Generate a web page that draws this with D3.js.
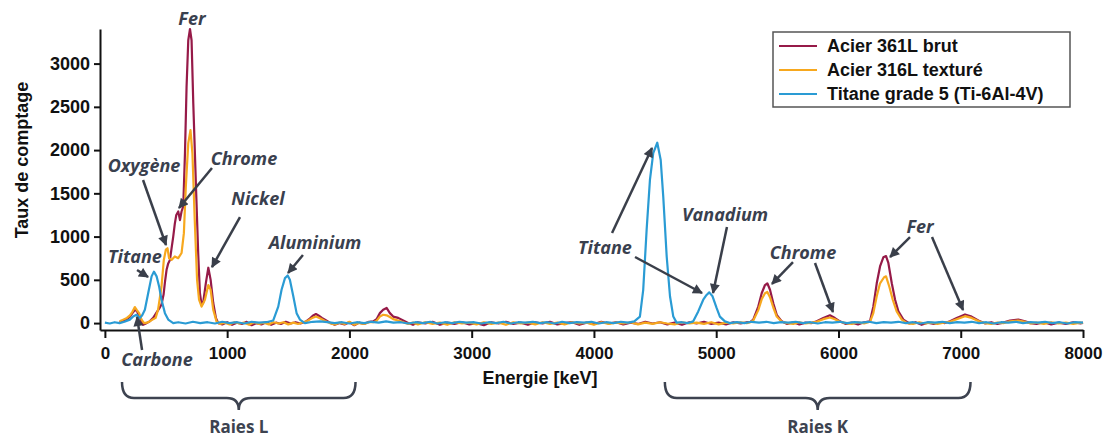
<!DOCTYPE html>
<html lang="fr">
<head>
<meta charset="UTF-8">
<title>Spectre EDS</title>
<style>
  body { margin: 0; background: #fff; }
  svg { display: block; font-family: "Liberation Sans", Arial, sans-serif; }
  .axis path, .axis line { stroke: #111; stroke-width: 2px; }
  .axis text { font-size: 17px; font-weight: bold; fill: #111; font-family: "Liberation Sans", Arial, sans-serif; }
  .axis.y text { font-size: 18px; }
  .spectre { fill: none; stroke-width: 2.2px; stroke-linejoin: round; }
  .titre-axe { font-size: 18px; font-weight: bold; fill: #111; }
  .note { font-family: "Open Sans", sans-serif; font-style: italic; font-weight: 700; font-size: 18px; fill: #39404e; }
  .fleche { stroke: #3a3f4a; stroke-width: 2.5px; fill: none; }
  .accolade { stroke: #3d4350; stroke-width: 2.5px; fill: none; }
  .raies { font-family: "Open Sans", sans-serif; font-weight: 700; font-size: 17px; fill: #3d4350; }
  .legende text { font-size: 18px; font-weight: bold; fill: #111; }
</style>
</head>
<body>
<div id="chart"></div>
<script src="https://cdn.jsdelivr.net/npm/d3@7"></script>
<script>
// spectres [energie, comptage]
const brut = [[120,10],[150,25],[180,45],[205,75],[225,115],[245,150],[262,140],[280,80],[298,15],[313,-20],[335,-5],[367,20],[395,60],[422,120],[445,170],[463,215],[480,330],[491,470],[505,620],[518,690],[532,730],[545,860],[559,1000],[572,1150],[584,1250],[600,1290],[614,1190],[627,1290],[641,1350],[655,1965],[668,2730],[682,3270],[696,3400],[709,3270],[723,2540],[745,1580],[763,810],[777,350],[791,210],[804,235],[826,465],[846,640],[865,500],[886,235],[908,60],[927,0],
  [960,-15],[1000,10],[1040,-20],[1080,5],[1120,-10],[1160,15],[1200,-25],[1240,0],[1280,-15],[1320,10],[1360,-20],[1400,5],[1440,-10],[1480,15],[1520,-5],[1560,10],[1600,-5],[1640,15],[1670,45],[1700,85],[1726,105],[1750,85],[1775,60],[1800,40],[1840,5],[1880,-20],[1920,0],[1960,-15],[2000,10],[2040,-25],[2080,5],[2120,-10],[2160,15],[2195,20],[2222,45],[2249,115],[2276,155],[2304,175],[2331,115],[2358,75],[2399,60],[2440,30],[2480,0],[2520,-20],[2560,10],[2620,-5],[2680,15],[2740,-20],[2800,5],[2860,-10],[2920,10],[2980,-15],[3040,0],[3100,-25],[3160,10],[3220,-5],[3280,15],[3340,-10],[3400,5],[3460,-20],[3520,10],[3580,-5],[3640,15],[3700,-15],[3760,0],[3820,10],[3880,-20],[3940,5],[4000,-10],[4060,15],[4120,-5],[4180,10],[4240,-15],[4300,5],[4360,-10],[4420,15],[4480,-5],[4540,10],[4600,-15],[4660,5],[4720,-20],[4780,10],[4840,-5],[4900,15],[4960,-10],[5020,5],[5080,-15],[5140,10],[5200,-5],[5250,10],[5280,15],
  [5303,40],[5344,190],[5372,345],[5399,440],[5418,460],[5440,385],[5467,230],[5495,95],[5536,20],[5580,-10],[5630,10],[5680,-15],[5730,5],[5780,0],[5822,20],[5876,58],[5930,90],[5971,58],[6012,20],[6060,-10],[6110,5],[6160,-15],[6210,10],[6258,20],[6285,190],[6313,460],[6340,655],[6367,760],[6389,775],[6408,695],[6436,460],[6463,270],[6490,135],[6531,40],[6580,-5],[6630,10],[6680,-20],[6730,5],[6780,-10],[6830,10],[6870,0],[6912,20],[6967,58],[7035,100],[7089,75],[7158,20],[7200,-5],[7250,10],[7300,-10],[7348,5],[7403,30],[7471,40],[7526,20],[7570,0],[7620,-10],[7680,10],[7740,-15],[7800,5],[7860,-10],[7920,10],[7980,-5],[8000,5]];

const texture = [[120,20],[150,40],[180,60],[205,90],[225,130],[245,185],[262,150],[280,115],[300,40],[320,0],[345,5],[367,20],[395,45],[415,60],[435,155],[463,420],[482,730],[499,850],[512,865],[525,750],[545,730],[572,770],[600,750],[627,810],[646,1040],[662,1580],[682,2080],[700,2230],[716,1960],[735,1190],[754,500],[770,270],[791,190],[818,270],[846,440],[865,385],[886,155],[913,20],
  [940,-10],[980,5],[1020,-15],[1060,10],[1100,-5],[1140,5],[1180,-20],[1220,10],[1260,-10],[1300,5],[1340,-15],[1380,10],[1420,-5],[1460,10],[1500,-15],[1540,5],[1580,-10],[1620,10],[1650,20],[1691,55],[1726,75],[1759,55],[1800,25],[1840,0],[1880,-15],[1920,5],[1960,-10],[2000,15],[2040,-20],[2080,0],[2120,-10],[2160,10],[2195,10],[2222,25],[2249,75],[2276,96],[2304,90],[2331,70],[2358,45],[2399,30],[2440,10],[2480,-10],[2520,5],[2560,-15],[2620,10],[2680,-10],[2740,5],[2800,-20],[2860,10],[2920,-5],[2980,5],[3040,-15],[3100,10],[3160,-10],[3220,5],[3280,-20],[3340,10],[3400,-5],[3460,5],[3520,-15],[3580,10],[3640,-10],[3700,5],[3760,-15],[3820,10],[3880,-5],[3940,5],[4000,-20],[4060,10],[4120,-10],[4180,5],[4240,-5],[4300,10],[4360,-15],[4420,5],[4480,-10],[4540,10],[4600,-5],[4660,-15],[4720,10],[4780,-5],[4840,5],[4900,-10],[4960,10],[5020,-15],[5080,5],[5140,-5],[5200,10],[5250,0],[5280,10],
  [5303,30],[5344,150],[5372,275],[5399,345],[5418,360],[5440,300],[5467,180],[5495,75],[5536,15],[5580,0],[5630,-10],[5680,10],[5730,-5],[5780,5],[5822,15],[5876,45],[5930,65],[5971,45],[6012,15],[6060,0],[6110,-10],[6160,10],[6210,-5],[6258,15],[6285,115],[6313,310],[6340,460],[6373,530],[6389,540],[6416,420],[6444,270],[6476,135],[6518,40],[6560,0],[6610,-10],[6660,10],[6710,-5],[6760,5],[6810,-10],[6860,5],[6912,15],[6967,45],[7035,80],[7089,60],[7158,15],[7200,0],[7250,-10],[7300,5],[7348,0],[7403,20],[7471,30],[7526,15],[7570,-5],[7620,5],[7680,-10],[7740,10],[7800,-5],[7860,5],[7920,-10],[7980,5],[8000,0]];

const titane = [[0,5],[40,-5],[80,10],[120,0],[160,15],[204,40],[230,75],[259,96],[286,58],[305,90],[327,155],[354,345],[382,540],[401,595],[423,540],[444,420],[463,270],[491,115],[518,40],[559,0],[600,10],[660,-5],[720,15],[780,0],[840,10],[900,-5],[960,15],[1020,0],[1080,10],[1140,-5],[1200,15],[1260,5],[1320,10],[1377,30],[1418,190],[1445,385],[1473,520],[1495,550],[1513,500],[1541,310],[1568,115],[1595,40],[1636,0],[1700,15],[1760,20],[1820,10],[1880,0],[1940,10],[2000,-5],[2060,10],[2120,0],[2180,15],[2240,5],[2300,20],[2360,5],[2420,10],[2480,-5],[2540,10],[2600,0],[2660,15],[2720,-5],[2780,10],[2840,0],[2900,15],[2960,5],[3020,10],[3080,-5],[3140,10],[3200,0],[3260,15],[3320,-5],[3380,10],[3440,5],[3500,15],[3560,0],[3620,10],[3680,-5],[3740,15],[3800,0],[3860,10],[3920,5],[3980,15],[4040,-5],[4100,10],[4160,0],[4220,15],[4280,5],[4330,20],
  [4376,75],[4403,385],[4431,1080],[4458,1655],[4485,1965],[4518,2085],[4546,1885],[4567,1460],[4595,770],[4622,310],[4649,75],[4676,5],[4720,10],[4770,0],[4812,20],[4853,135],[4894,270],[4921,325],[4943,355],[4970,310],[5003,175],[5030,75],[5071,20],[5110,0],[5170,10],[5230,0],[5290,15],[5350,5],[5410,15],[5470,0],[5530,10],[5590,5],[5650,15],[5710,0],[5770,10],[5830,-5],[5890,10],[5950,5],[6010,15],[6070,0],[6130,10],[6190,5],[6250,15],[6310,0],[6370,10],[6430,5],[6490,15],[6550,0],[6610,10],[6670,-5],[6730,10],[6790,5],[6850,15],[6910,0],[6970,10],[7030,5],[7090,15],[7150,0],[7210,10],[7270,-5],[7330,10],[7390,5],[7450,15],[7510,0],[7570,10],[7630,5],[7690,15],[7750,0],[7810,10],[7870,-5],[7930,10],[8000,5]];

const seriesNames = ["Acier 361L brut", "Acier 316L texturé", "Titane grade 5 (Ti-6Al-4V)"];
const seriesColors = ["#961a48", "#f7a81e", "#2a9bd4"];
const xTicks = [0, 1000, 2000, 3000, 4000, 5000, 6000, 7000, 8000];
const yTicks = [0, 500, 1000, 1500, 2000, 2500, 3000];

// annotations : texte, position [E, comptage], flèches [[depart], [pointe]]
const notes = [
  { t: "Fer", at: [712, 3516], arrows: [] },
  { t: "Oxygène", at: [320, 1816], arrows: [[[312, 1654], [500, 903]]] },
  { t: "Chrome", at: [1138, 1897], arrows: [[[876, 1793], [606, 1331]]] },
  { t: "Nickel", at: [1252, 1435], arrows: [[[1105, 1226], [876, 648]]] },
  { t: "Titane", at: [246, 764], arrows: [[[263, 614], [353, 533]]] },
  { t: "Aluminium", at: [1719, 926], arrows: [[[1620, 787], [1498, 579]]] },
  { t: "Carbone", at: [426, -427], arrows: [[[304, -311], [263, 70]]] },
  { t: "Titane", at: [4090, 868], arrows: [[[4148, 1041], [4475, 2024]], [[4336, 764], [4884, 348]]] },
  { t: "Vanadium", at: [5072, 1250], arrows: [[[5088, 1111], [4974, 348]]] },
  { t: "Chrome", at: [5710, 810], arrows: [[[5628, 706], [5456, 452]], [[5808, 695], [5955, 128]]] },
  { t: "Fer", at: [6667, 1111], arrows: [[[6585, 995], [6422, 764]], [[6765, 995], [7019, 151]]] }
];
const groupes = [
  { t: "Raies L", range: [140, 2050] },
  { t: "Raies K", range: [4580, 7080] }
];

const W = 1109, H = 439;
const x = d3.scaleLinear().domain([-40, 8000]).range([100, 1083]);
const y = d3.scaleLinear().domain([-80, 3400]).range([330, 29]);

const svg = d3.select("#chart").append("svg")
    .attr("width", W).attr("height", H);
svg.append("rect").attr("width", W).attr("height", H).attr("fill", "#fff");

const defs = svg.append("defs");
defs.append("marker")
    .attr("id", "tete")
    .attr("viewBox", "0 0 10 10")
    .attr("refX", 9).attr("refY", 5)
    .attr("markerUnits", "userSpaceOnUse")
    .attr("markerWidth", 11).attr("markerHeight", 10)
    .attr("orient", "auto")
  .append("path")
    .attr("d", "M0,0 L10,5 L0,10 z")
    .attr("fill", "#3a3f4a");

// spectres
const line = d3.line()
    .x(d => x(d[0]))
    .y(d => y(d[1]));

[brut, texture, titane].forEach((s, i) => {
  svg.append("path")
      .datum(s)
      .attr("class", "spectre")
      .attr("stroke", seriesColors[i])
      .attr("d", line);
});

// axes
svg.append("g")
    .attr("class", "axis x")
    .attr("transform", "translate(0," + y.range()[0] + ")")
    .call(d3.axisBottom(x).tickValues(xTicks).tickFormat(d3.format("d")).tickSize(8).tickSizeOuter(0).tickPadding(9));

svg.append("g")
    .attr("class", "axis y")
    .attr("transform", "translate(" + x.range()[0] + ",0)")
    .call(d3.axisLeft(y).tickValues(yTicks).tickFormat(d3.format("d")).tickSize(6).tickSizeOuter(0).tickPadding(4));

svg.append("text")
    .attr("class", "titre-axe")
    .attr("text-anchor", "middle")
    .attr("transform", "translate(28,160) rotate(-90)")
    .text("Taux de comptage");

svg.append("text")
    .attr("class", "titre-axe")
    .attr("text-anchor", "middle")
    .attr("x", 540).attr("y", 384)
    .text("Energie [keV]");

// annotations
notes.forEach(n => {
  n.arrows.forEach(a => {
    svg.append("line")
        .attr("class", "fleche")
        .attr("x1", x(a[0][0])).attr("y1", y(a[0][1]))
        .attr("x2", x(a[1][0])).attr("y2", y(a[1][1]))
        .attr("marker-end", "url(#tete)");
  });
  svg.append("text")
      .attr("class", "note")
      .attr("text-anchor", "middle")
      .attr("x", x(n.at[0]))
      .attr("y", y(n.at[1]))
      .attr("dy", "0.35em")
      .text(n.t);
});

// accolades sous l'axe
groupes.forEach(g => {
  const x0 = x(g.range[0]), x1 = x(g.range[1]), xm = (x0 + x1) / 2;
  const top = 382, mid = 398, pt = 410, r = 12;
  const p = d3.path();
  p.moveTo(x0, top);
  p.quadraticCurveTo(x0, mid, x0 + r, mid);
  p.lineTo(xm - r, mid);
  p.quadraticCurveTo(xm, mid, xm, pt);
  p.quadraticCurveTo(xm, mid, xm + r, mid);
  p.lineTo(x1 - r, mid);
  p.quadraticCurveTo(x1, mid, x1, top);
  svg.append("path").attr("class", "accolade").attr("d", p.toString());
  svg.append("text")
      .attr("class", "raies")
      .attr("text-anchor", "middle")
      .attr("x", xm).attr("y", 433)
      .text(g.t);
});

// legende
const leg = svg.append("g").attr("class", "legende").attr("transform", "translate(773,32)");
leg.append("rect")
    .attr("width", 297).attr("height", 75)
    .attr("fill", "#fff").attr("stroke", "#555").attr("stroke-width", 1.5);
seriesNames.forEach((name, i) => {
  const row = leg.append("g").attr("transform", "translate(0," + (14 + i * 24) + ")");
  row.append("line")
      .attr("x1", 6).attr("x2", 44)
      .attr("stroke", seriesColors[i]).attr("stroke-width", 2);
  row.append("text")
      .attr("x", 54).attr("dy", "0.35em")
      .text(name);
});
</script>
</body>
</html>
